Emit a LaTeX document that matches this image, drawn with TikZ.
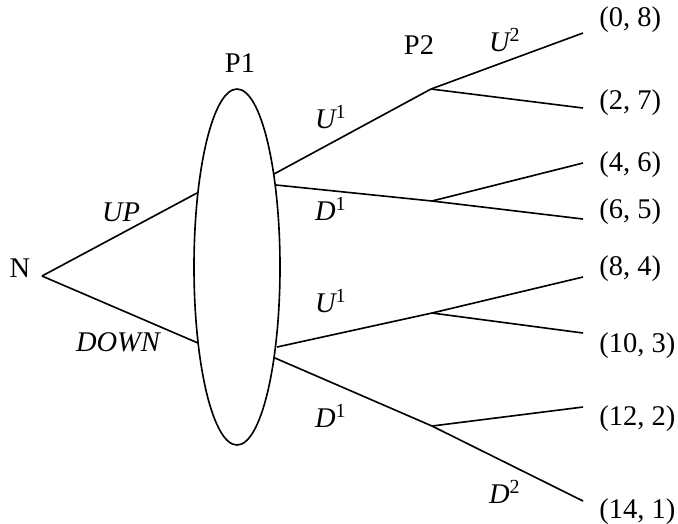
\documentclass[tikz,border=0pt]{standalone}
\usepackage{fontspec}
\setmainfont{Liberation Serif}
\usetikzlibrary{shapes.geometric}

\begin{document}
\begin{tikzpicture}[
    x=0.4pt, y=-0.4pt,
    line width=0.65pt,
    font=\fontsize{11.4}{13}\selectfont,
    every node/.style={inner sep=1pt},
    infoset/.style={
        draw,
        ellipse,
        minimum width=34.4pt,
        minimum height=142.4pt,
        inner sep=0pt
    },
    move/.style={font=\fontsize{11.4}{13}\selectfont\itshape},
    payoff/.style={anchor=west}
]
\useasboundingbox (0,0) rectangle (678,523);

% ---------------- PLAYERS ----------------
\coordinate (root) at (42,276);
\node             (Nlbl)  at (20,268)  {N};
\node[infoset]    (P1set) at (237,267) {};
\node             (P1lbl) at (240,63)  {P1};
\node             (P2lbl) at (419,45)  {P2};

% ---------------- JUNCTIONS ----------------
\coordinate (inUP)  at (197,193);
\coordinate (inDN)  at (198,343);
\coordinate (outUa) at (274,174);
\coordinate (outDa) at (276,185);
\coordinate (outUb) at (277,347);
\coordinate (outDb) at (275,358);
\coordinate (jUU)   at (431,89);
\coordinate (jUD)   at (432,201);
\coordinate (jDU)   at (432,313);
\coordinate (jDD)   at (432,426);

% ---------------- LEAVES ----------------
\coordinate (l1) at (583,33);
\coordinate (l2) at (583,108);
\coordinate (l3) at (583,163);
\coordinate (l4) at (583,219);
\coordinate (l5) at (583,277);
\coordinate (l6) at (583,333);
\coordinate (l7) at (583,407);
\coordinate (l8) at (583,501);

\node[payoff] (pay1) at (596,20)  {(0, 8)};
\node[payoff] (pay2) at (596,103) {(2, 7)};
\node[payoff] (pay3) at (596,165) {(4, 6)};
\node[payoff] (pay4) at (596,212) {(6, 5)};
\node[payoff] (pay5) at (596,269) {(8, 4)};
\node[payoff] (pay6) at (596,346) {(10, 3)};
\node[payoff] (pay7) at (596,419) {(12, 2)};
\node[payoff] (pay8) at (596,512) {(14, 1)};

% Nature:
\draw (root) -- (inUP);
\draw (root) -- (inDN);
\node[move] (lblUP) at (121,212) {UP};
\node[move] (lblDN) at (118,342) {DOWN};

% P1 moves:
\draw (outUa) -- (jUU);
\draw (outDa) -- (jUD);
\draw (outUb) -- (jDU);
\draw (outDb) -- (jDD);
\node[move] (lblUa) at (331,117) {U\textsuperscript{\upshape 1}};
\node[move] (lblDa) at (331,209) {D\textsuperscript{\upshape 1}};
\node[move] (lblUb) at (331,301) {U\textsuperscript{\upshape 1}};
\node[move] (lblDb) at (331,416) {D\textsuperscript{\upshape 1}};

% P2 moves:
\draw (jUU) -- (l1);
\draw (jUU) -- (l2);
\draw (jUD) -- (l3);
\draw (jUD) -- (l4);
\draw (jDU) -- (l5);
\draw (jDU) -- (l6);
\draw (jDD) -- (l7);
\draw (jDD) -- (l8);
\node[move] (lblU2) at (505,40)  {U\textsuperscript{\upshape 2}};
\node[move] (lblD2) at (505,492) {D\textsuperscript{\upshape 2}};

\end{tikzpicture}
\end{document}
